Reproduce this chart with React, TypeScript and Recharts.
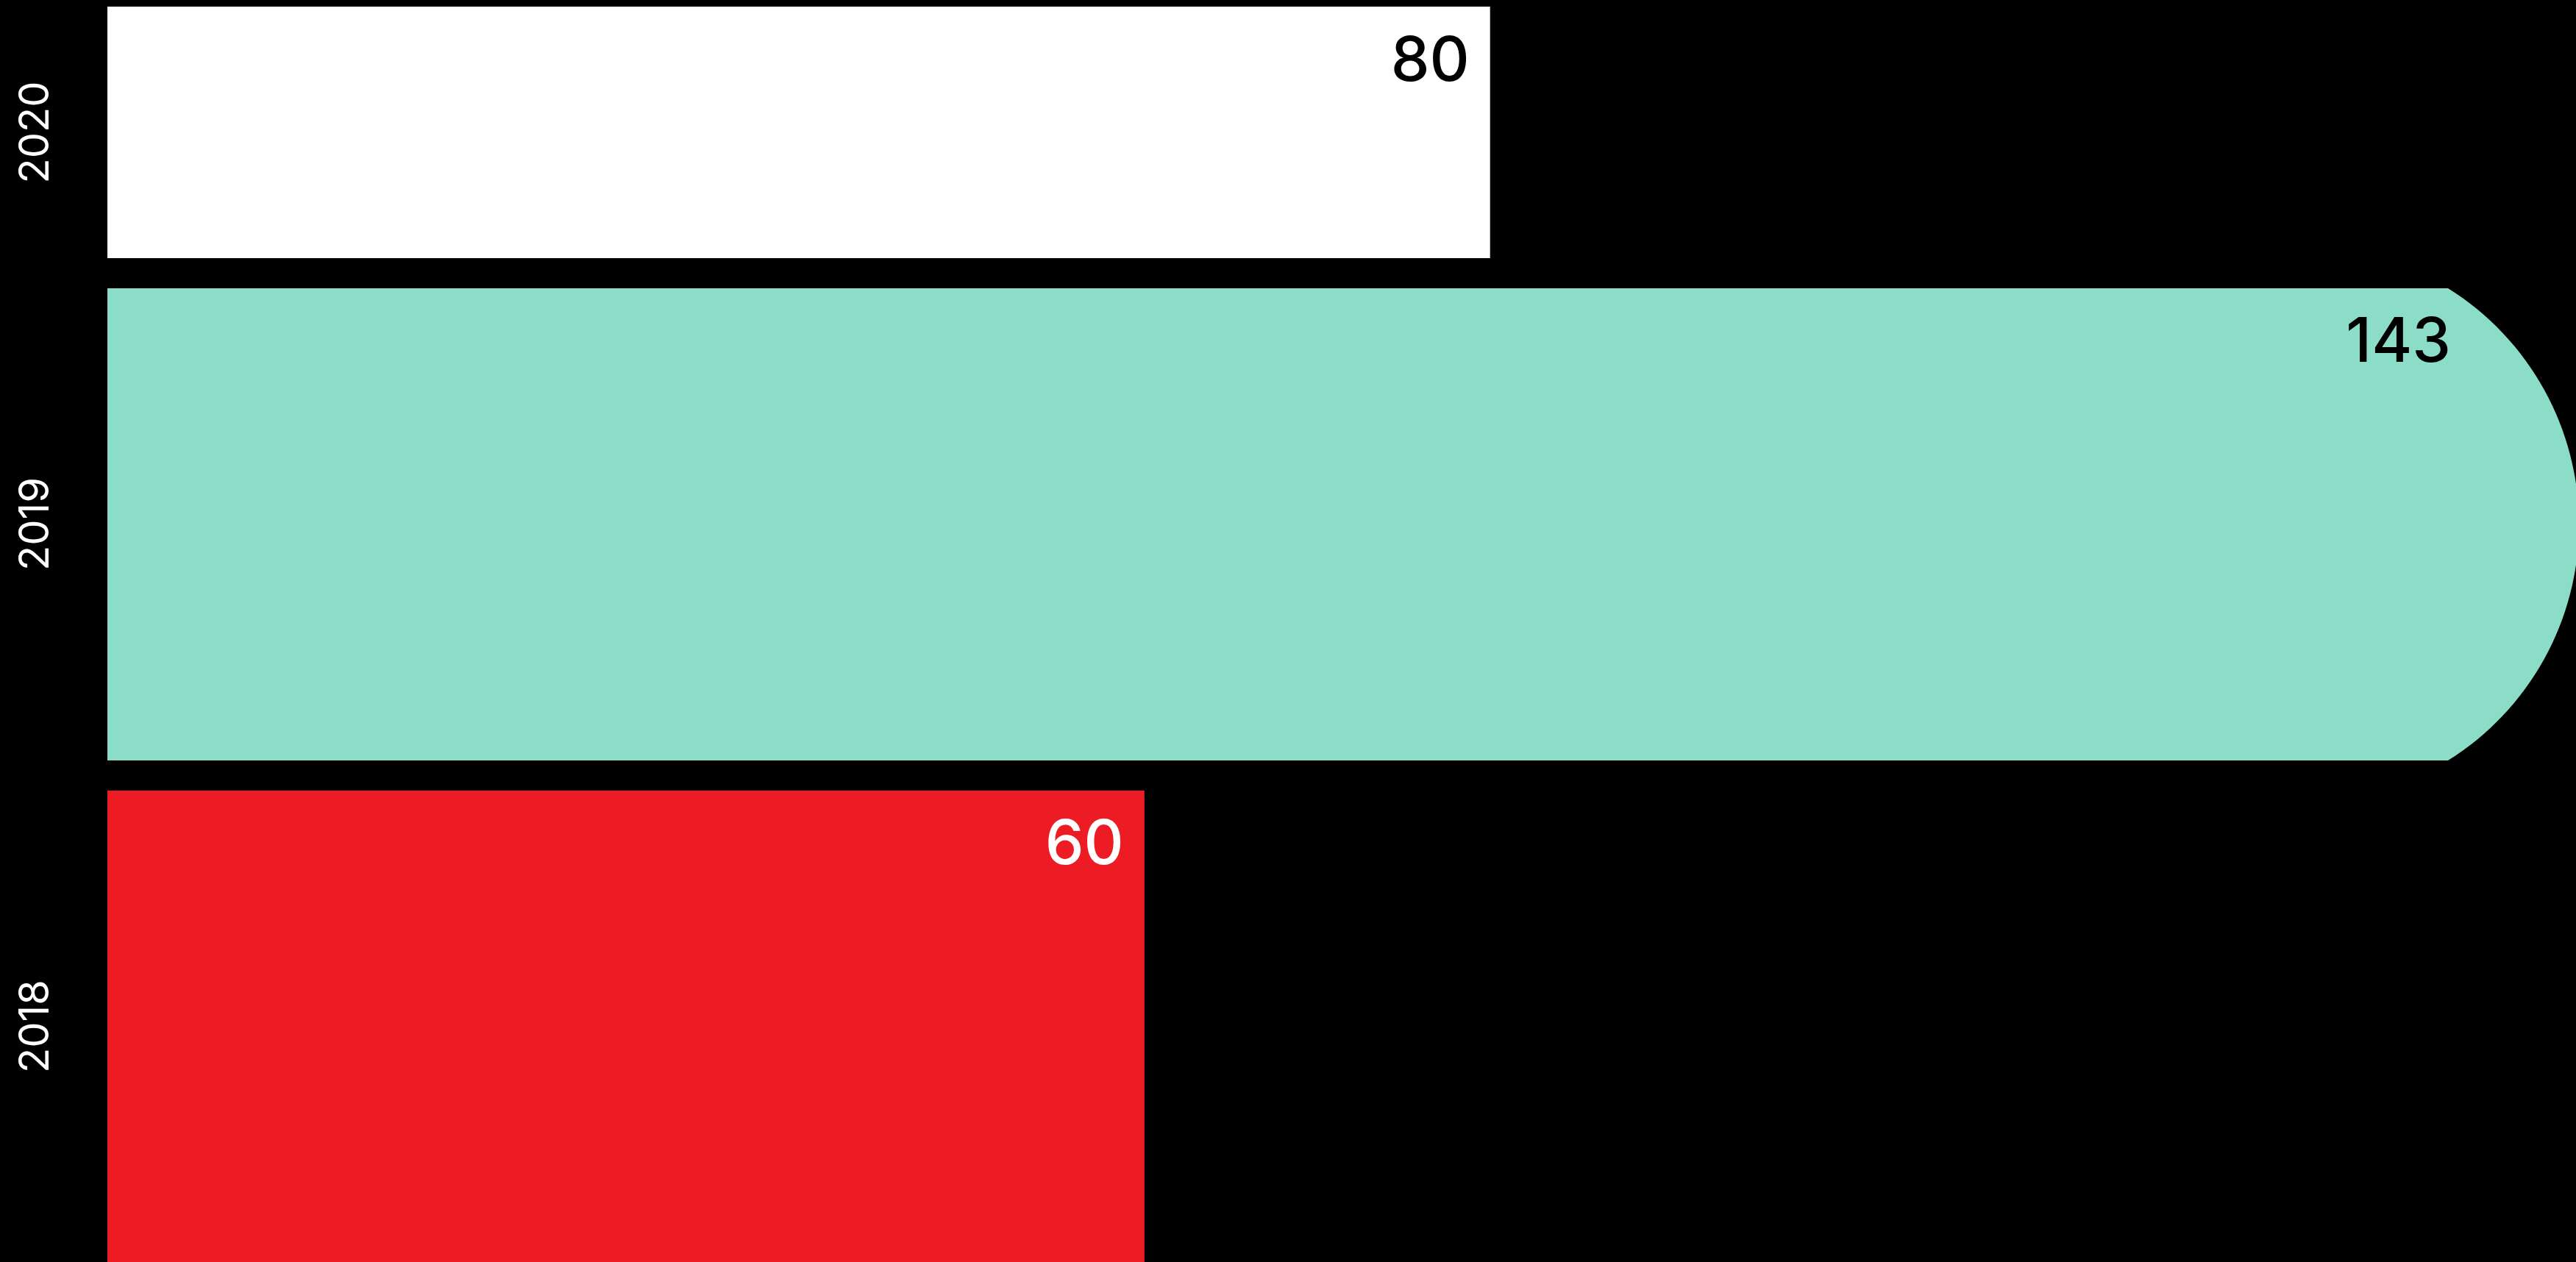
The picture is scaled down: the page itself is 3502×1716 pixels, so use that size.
import React from "react";
import { BarChart, Bar, Cell, LabelList, XAxis, YAxis } from "recharts";

const YEARS = ["2020", "2019", "2018"];
const VALUES = [80, 143, 60];
const X_DOMAIN = [0, 143];

const BAR_COLORS = ["#FFFFFF", "#8BDDC7", "#ED1C24"];
const LABEL_COLORS = ["#000000", "#000000", "#FFFFFF"];

const data = YEARS.map((year, i) => ({ year, value: VALUES[i] }));
const MAX_VALUE = Math.max(...VALUES);

// layout: chart is taller than the page, top band is cut off by the wrapper
const CHART_W = 3506;
const CHART_H = 2049;
const BAR_SIZE = 642;
const CHART_TOP = -312.5; // page y of svg top
const VISIBLE_TOP = 9; // page y where the clip starts
const CLIP_SVG = VISIBLE_TOP - CHART_TOP;
const END_CURVE = 178; // horizontal depth of the rounded end
const FONT = "Inter, 'Noto Sans', sans-serif";

function BarShape(props: any) {
  const { x, y, width, height, fill, payload } = props;
  if (payload.value !== MAX_VALUE) {
    return <rect x={x} y={y} width={width} height={height} fill={fill} />;
  }
  const d = END_CURVE;
  const half = height / 2;
  const r = (d * d + half * half) / (2 * d);
  const xs = x + width - d;
  const path = `M${x},${y} H${xs} A${r},${r} 0 0 1 ${xs},${y + height} H${x} Z`;
  return <path d={path} fill={fill} />;
}

function ValueLabel(props: any) {
  const { x, y, width, value, index } = props;
  const top = Math.max(y, CLIP_SVG);
  const right = value === MAX_VALUE ? x + width - END_CURVE + 4 : x + width - 28;
  return (
    <text
      x={right}
      y={top + 100}
      textAnchor="end"
      fill={LABEL_COLORS[index]}
      fontFamily={FONT}
      fontSize={84}
      fontWeight={500}
    >
      {value}
    </text>
  );
}

function YearTick(props: any) {
  const { y, payload } = props;
  const barTop = y - BAR_SIZE / 2;
  const barBottom = y + BAR_SIZE / 2;
  const cy = (Math.max(barTop, CLIP_SVG) + barBottom) / 2;
  const cx = 46;
  return (
    <text
      x={cx}
      y={cy}
      textAnchor="middle"
      dominantBaseline="central"
      transform={`rotate(-90, ${cx}, ${cy})`}
      fill="#FFFFFF"
      fontFamily={FONT}
      fontSize={56}
    >
      {payload.value}
    </text>
  );
}

export default function App() {
  return (
    <div
      style={{
        position: "fixed",
        left: 0,
        top: 0,
        width: 3502,
        height: 1716,
        background: "#000",
        overflow: "hidden",
      }}
    >
      <div
        style={{
          position: "absolute",
          left: 0,
          top: VISIBLE_TOP,
          width: CHART_W,
          height: 1716 - VISIBLE_TOP,
          overflow: "hidden",
        }}
      >
        <div style={{ position: "absolute", left: 0, top: CHART_TOP - VISIBLE_TOP }}>
          <BarChart
            width={CHART_W}
            height={CHART_H}
            data={data}
            layout="vertical"
            margin={{ top: 0, right: 0, bottom: 0, left: 0 }}
            barSize={BAR_SIZE}
          >
            <XAxis type="number" domain={X_DOMAIN} hide />
            <YAxis
              type="category"
              dataKey="year"
              width={146}
              axisLine={false}
              tickLine={false}
              tick={<YearTick />}
              interval={0}
            />
            <Bar dataKey="value" shape={<BarShape />} isAnimationActive={false}>
              {data.map((d, i) => (
                <Cell key={d.year} fill={BAR_COLORS[i]} />
              ))}
              <LabelList dataKey="value" content={<ValueLabel />} />
            </Bar>
          </BarChart>
        </div>
      </div>
    </div>
  );
}
